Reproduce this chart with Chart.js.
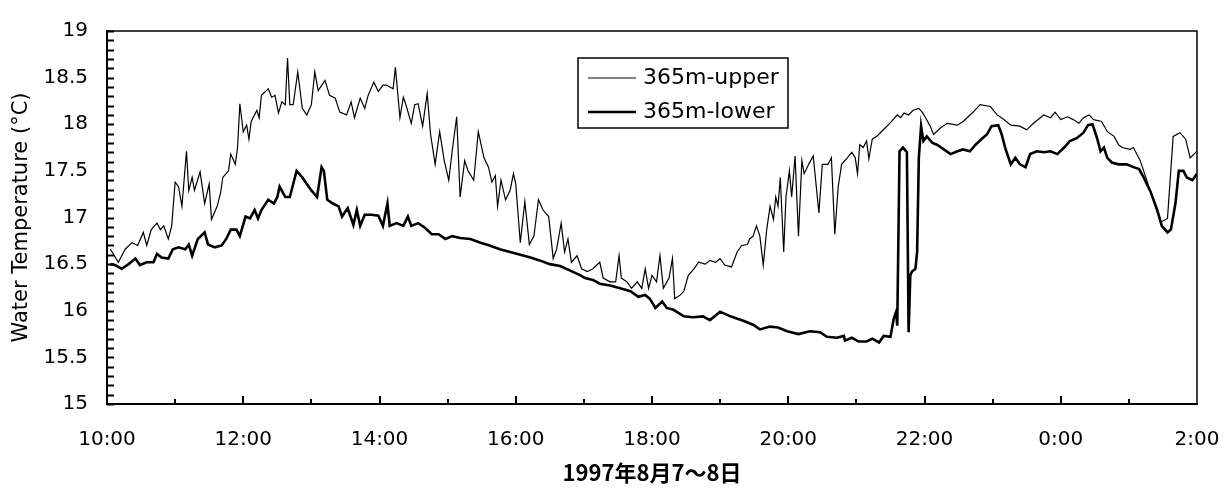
<!DOCTYPE html>
<html>
<head>
<meta charset="utf-8">
<script src="https://cdn.jsdelivr.net/npm/chart.js@4.4.1/dist/chart.umd.min.js"></script>
<style>
  html, body { margin: 0; padding: 0; background: #fff; }
</style>
</head>
<body>
<canvas id="grafico" width="1224" height="488"></canvas>
<script>
// minutes since 10:00 on Aug 7
const xTickLabels = ['10:00', '12:00', '14:00', '16:00', '18:00', '20:00', '22:00', '0:00', '2:00'];
const serieNomes = ['365m-upper', '365m-lower'];

const upperMin = [3, 10, 16, 22, 27, 32, 35, 39, 44, 47, 50, 54, 57, 60, 63, 66, 70, 72, 75, 77, 82, 86, 90, 92, 97, 100, 102, 107, 109, 113, 115, 117, 120, 123, 125, 127, 132, 134, 136, 142, 145, 148, 151, 154, 157, 159, 161, 164, 168, 172, 176, 180, 183, 186, 192, 196, 201, 205, 211, 215, 218, 223, 227, 230, 235, 239, 243, 246, 252, 254, 258, 261, 263, 268, 271, 274, 278, 282, 285, 289, 293, 297, 301, 304, 308, 311, 315, 318, 323, 327, 332, 336, 339, 342, 344, 347, 351, 355, 358, 360, 364, 368, 372, 376, 380, 384, 389, 393, 396, 400, 403, 406, 409, 414, 418, 423, 428, 434, 437, 443, 448, 451, 453, 458, 462, 467, 471, 474, 477, 480, 484, 487, 490, 495, 498, 500, 505, 508, 512, 517, 521, 527, 531, 536, 540, 544, 550, 555, 559, 564, 566, 569, 572, 575, 578, 581, 584, 587, 589, 591, 593, 596, 598, 601, 603, 606, 609, 612, 614, 618, 622, 627, 630, 635, 638, 641, 644, 647, 652, 656, 659, 661, 663, 666, 669, 671, 674, 678, 682, 687, 691, 696, 699, 702, 706, 710, 715, 718, 721, 725, 728, 734, 740, 749, 754, 762, 769, 778, 784, 790, 796, 804, 810, 816, 825, 831, 835, 840, 846, 851, 856, 860, 865, 869, 876, 881, 887, 891, 894, 901, 904, 910, 919, 928, 934, 939, 945, 950, 954, 960];
const upperTemp = [16.66, 16.52, 16.66, 16.73, 16.70, 16.84, 16.70, 16.87, 16.94, 16.87, 16.91, 16.77, 16.91, 17.38, 17.33, 17.12, 17.71, 17.29, 17.43, 17.29, 17.49, 17.15, 17.36, 16.98, 17.12, 17.26, 17.43, 17.50, 17.68, 17.57, 17.75, 18.22, 17.92, 17.99, 17.84, 18.03, 18.15, 18.07, 18.31, 18.38, 18.29, 18.31, 18.12, 18.24, 18.21, 18.71, 18.21, 18.21, 18.56, 18.17, 18.10, 18.21, 18.56, 18.36, 18.47, 18.31, 18.28, 18.13, 18.10, 18.24, 18.07, 18.28, 18.17, 18.31, 18.45, 18.35, 18.42, 18.42, 18.38, 18.61, 18.07, 18.29, 18.22, 18.01, 18.21, 18.22, 17.98, 18.33, 17.89, 17.57, 17.92, 17.61, 17.40, 17.71, 18.08, 17.22, 17.61, 17.50, 17.40, 17.92, 17.64, 17.54, 17.38, 17.45, 17.12, 17.40, 17.19, 17.29, 17.47, 17.36, 16.73, 17.17, 16.71, 16.80, 17.19, 17.08, 17.01, 16.56, 16.66, 16.94, 16.63, 16.77, 16.52, 16.59, 16.45, 16.42, 16.45, 16.52, 16.35, 16.31, 16.31, 16.59, 16.35, 16.31, 16.24, 16.31, 16.24, 16.45, 16.24, 16.38, 16.31, 16.59, 16.24, 16.35, 16.56, 16.13, 16.17, 16.21, 16.38, 16.45, 16.52, 16.50, 16.54, 16.52, 16.56, 16.49, 16.47, 16.63, 16.70, 16.71, 16.77, 16.80, 16.91, 16.80, 16.49, 16.87, 17.12, 16.98, 17.22, 17.12, 17.43, 16.63, 17.22, 17.50, 17.22, 17.66, 16.80, 17.61, 17.47, 17.57, 17.66, 17.05, 17.57, 17.57, 17.64, 16.82, 17.33, 17.57, 17.64, 17.70, 17.64, 17.47, 17.78, 17.75, 17.82, 17.63, 17.84, 17.87, 17.92, 17.98, 18.03, 18.10, 18.07, 18.12, 18.10, 18.15, 18.17, 18.13, 18.07, 17.98, 17.89, 17.96, 18.01, 17.99, 18.03, 18.12, 18.21, 18.19, 18.10, 18.05, 17.99, 17.98, 17.94, 18.01, 18.10, 18.07, 18.13, 18.05, 18.08, 18.05, 18.01, 18.07, 18.10, 18.05, 18.03, 17.92, 17.87, 17.78, 17.75, 17.73, 17.75, 17.61, 17.28, 16.95, 16.99, 17.87, 17.91, 17.84, 17.64, 17.71];

const lowerMin = [3, 7, 13, 19, 25, 29, 35, 41, 44, 48, 54, 58, 63, 69, 72, 75, 80, 86, 89, 95, 101, 105, 109, 114, 117, 122, 126, 130, 133, 136, 142, 147, 150, 152, 157, 161, 167, 172, 176, 180, 185, 189, 191, 194, 199, 204, 207, 212, 217, 220, 223, 227, 233, 239, 243, 247, 249, 255, 261, 265, 268, 274, 280, 286, 292, 298, 304, 311, 320, 329, 337, 346, 355, 364, 373, 381, 390, 399, 408, 417, 421, 428, 434, 443, 452, 461, 468, 474, 478, 483, 489, 493, 499, 508, 516, 525, 531, 540, 549, 561, 569, 575, 584, 591, 599, 609, 619, 628, 634, 643, 649, 650, 656, 662, 669, 674, 680, 684, 690, 693, 695, 696, 698, 701, 704.5, 706, 707.5, 709, 712, 713.5, 715, 717, 719, 722, 727, 731, 737, 743, 749, 754, 760, 765, 771, 775, 779, 785, 788, 791, 796, 800, 804, 809, 813, 819, 825, 831, 837, 843, 848, 854, 860, 864, 868, 872, 875, 878, 881, 885, 891, 898, 904, 909, 913, 919, 925, 929, 934, 937, 941, 944, 948, 951, 956, 960];
const lowerTemp = [16.50, 16.49, 16.45, 16.50, 16.56, 16.49, 16.52, 16.52, 16.61, 16.57, 16.56, 16.66, 16.68, 16.66, 16.71, 16.59, 16.77, 16.84, 16.71, 16.68, 16.70, 16.77, 16.87, 16.87, 16.80, 17.01, 16.99, 17.08, 16.99, 17.08, 17.19, 17.15, 17.22, 17.33, 17.22, 17.22, 17.50, 17.43, 17.36, 17.29, 17.22, 17.54, 17.50, 17.19, 17.15, 17.12, 17.01, 17.10, 16.92, 17.08, 16.91, 17.03, 17.03, 17.02, 16.91, 17.15, 16.91, 16.94, 16.91, 17.01, 16.91, 16.94, 16.89, 16.82, 16.82, 16.77, 16.80, 16.78, 16.77, 16.73, 16.70, 16.66, 16.63, 16.60, 16.57, 16.54, 16.50, 16.48, 16.43, 16.38, 16.35, 16.33, 16.29, 16.27, 16.24, 16.21, 16.15, 16.17, 16.13, 16.03, 16.10, 16.03, 16.01, 15.94, 15.93, 15.94, 15.90, 15.99, 15.94, 15.89, 15.85, 15.80, 15.83, 15.82, 15.78, 15.75, 15.78, 15.77, 15.72, 15.71, 15.73, 15.68, 15.71, 15.67, 15.67, 15.70, 15.66, 15.73, 15.72, 15.92, 15.99, 15.84, 17.71, 17.75, 17.70, 15.77, 16.38, 16.42, 16.45, 16.63, 17.64, 17.98, 17.82, 17.87, 17.80, 17.78, 17.73, 17.68, 17.71, 17.73, 17.71, 17.78, 17.85, 17.89, 17.98, 17.99, 17.89, 17.75, 17.57, 17.64, 17.57, 17.54, 17.68, 17.71, 17.70, 17.71, 17.68, 17.75, 17.82, 17.85, 17.91, 17.99, 18.00, 17.85, 17.71, 17.75, 17.64, 17.59, 17.57, 17.57, 17.54, 17.52, 17.43, 17.28, 17.08, 16.91, 16.84, 16.87, 17.15, 17.50, 17.50, 17.43, 17.40, 17.47];

const toPontos = (mins, temps) => mins.map((m, i) => ({ x: m, y: temps[i] }));

// ticks para dentro + moldura
const moldura = {
    id: 'moldura',
    afterDatasetsDraw(chart) {
        const { ctx, chartArea, scales } = chart;
        const { left, right, top, bottom } = chartArea;
        ctx.save();
        ctx.strokeStyle = '#000';
        ctx.lineWidth = 1.5;
        ctx.beginPath();
        ctx.moveTo(left, top);
        ctx.lineTo(right, top);
        ctx.lineTo(right, bottom);
        ctx.stroke();

        ctx.lineWidth = 2;
        ctx.beginPath();
        for (let i = 0; i <= 40; i++) {
            const py = Math.round(scales.y.getPixelForValue(15 + i * 0.1)) + 0.5;
            ctx.moveTo(left, py);
            ctx.lineTo(left + 7, py);
        }
        for (let m = 60; m < 960; m += 60) {
            const px = Math.round(scales.x.getPixelForValue(m));
            const len = m % 120 === 0 ? 8 : 5;
            ctx.moveTo(px, bottom);
            ctx.lineTo(px, bottom - len);
        }
        ctx.stroke();
        ctx.restore();
    }
};

// legenda em caixa dentro do grafico
const legendaCaixa = {
    id: 'legendaCaixa',
    afterDraw(chart) {
        const ctx = chart.ctx;
        const bx = 578, by = 58, bw = 210, bh = 70;
        ctx.save();
        ctx.fillStyle = '#fff';
        ctx.fillRect(bx, by, bw, bh);
        ctx.strokeStyle = '#000';
        ctx.lineWidth = 1.5;
        ctx.strokeRect(bx, by, bw, bh);
        ctx.font = '22px "DejaVu Sans"';
        ctx.fillStyle = '#000';
        ctx.textBaseline = 'middle';
        chart.data.datasets.forEach((ds, i) => {
            const y = by + 20 + i * 34;
            ctx.lineWidth = ds.borderWidth;
            ctx.beginPath();
            ctx.moveTo(bx + 10, y);
            ctx.lineTo(bx + 58, y);
            ctx.stroke();
            ctx.fillText(ds.label, bx + 65, y);
        });
        ctx.restore();
    }
};

new Chart(document.getElementById('grafico').getContext('2d'), {
    type: 'line',
    data: {
        datasets: [{
            label: serieNomes[0],
            data: toPontos(upperMin, upperTemp),
            borderColor: '#000',
            borderWidth: 1.2,
            pointRadius: 0,
            tension: 0,
            fill: false
        }, {
            label: serieNomes[1],
            data: toPontos(lowerMin, lowerTemp),
            borderColor: '#000',
            borderWidth: 2.6,
            pointRadius: 0,
            tension: 0,
            fill: false
        }]
    },
    options: {
        responsive: false,
        animation: false,
        devicePixelRatio: 1,
        layout: { padding: { left: 0, top: 24, right: 27, bottom: 0 } },
        plugins: {
            legend: { display: false },
            tooltip: { enabled: false }
        },
        scales: {
            x: {
                type: 'linear',
                min: 0,
                max: 960,
                afterFit: s => { s.height = 84; s.paddingRight = 0; s.paddingLeft = 0; },
                grid: { display: false, drawTicks: false },
                border: { display: true, color: '#000', width: 2 },
                ticks: {
                    stepSize: 120,
                    padding: 24,
                    color: '#000',
                    font: { family: 'DejaVu Sans', size: 20 },
                    maxRotation: 0,
                    callback: v => xTickLabels[v / 120]
                },
                title: {
                    display: true,
                    text: '1997年8月7～8日',
                    color: '#000',
                    font: { family: 'Noto Sans CJK JP', size: 22, weight: 'bold' },
                    padding: { top: 0, bottom: 2 }
                }
            },
            y: {
                min: 15,
                max: 19,
                afterFit: s => { s.width = 107; },
                grid: { display: false, drawTicks: false },
                border: { display: true, color: '#000', width: 2 },
                ticks: {
                    stepSize: 0.5,
                    padding: 19,
                    color: '#000',
                    font: { family: 'DejaVu Sans', size: 20 },
                    callback: v => String(v)
                },
                title: {
                    display: true,
                    text: 'Water Temperature (°C)',
                    color: '#000',
                    font: { family: 'DejaVu Sans', size: 21 },
                    padding: { top: 9, bottom: 0 }
                }
            }
        }
    },
    plugins: [moldura, legendaCaixa]
});
</script>
</body>
</html>
